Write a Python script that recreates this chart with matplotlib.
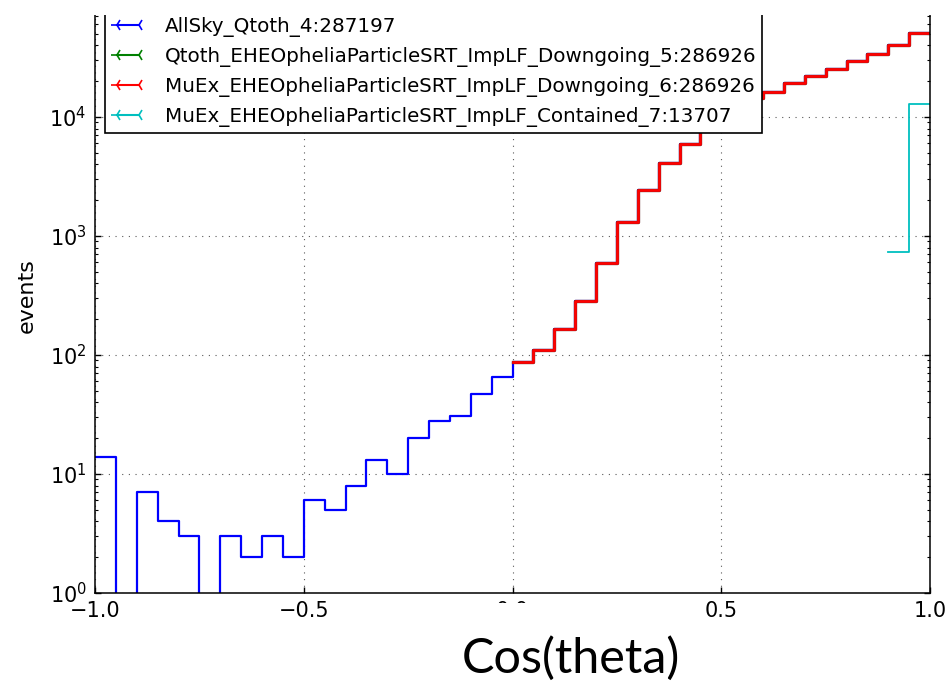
import numpy as np
import matplotlib
matplotlib.use("Agg")
import matplotlib.pyplot as plt
from matplotlib.lines import Line2D
from matplotlib.patches import Rectangle

# histogram data, 40 bins of cos(theta) from -1 to 1
bin_edges = np.linspace(-1.0, 1.0, 41)
upgoing_counts = [14, 0, 7, 4, 3, 0, 3, 2, 3, 2,
                  6, 5, 8, 13, 10, 20, 28, 31, 47, 65]
downgoing_counts = [87, 111, 164, 286, 588, 1322, 2433, 4113, 5955, 8600,
                    11700, 14400, 16200, 19300, 21900, 25100, 29300, 34000, 40400, 50900]
contained_counts = [730, 12977]

labels = ["AllSky_Qtoth_4:287197",
          "Qtoth_EHEOpheliaParticleSRT_ImpLF_Downgoing_5:286926",
          "MuEx_EHEOpheliaParticleSRT_ImpLF_Downgoing_6:286926",
          "MuEx_EHEOpheliaParticleSRT_ImpLF_Contained_7:13707"]
colors = ["#0000ff", "#008000", "#ff0000", "#00bfbf"]

allsky_counts = upgoing_counts + downgoing_counts
n_down = len(downgoing_counts)
n_cont = len(contained_counts)


def step(ax, edges, vals, **kw):
    vals = np.asarray(vals, dtype=float)
    ax.step(edges, np.append(vals, vals[-1]), where="post", **kw)


fig = plt.figure(figsize=(9.5, 6.83), dpi=100)
ax = fig.add_axes([95 / 950, 1 - 593 / 683, 835 / 950, 595 / 683])

step(ax, bin_edges, allsky_counts, color=colors[0], lw=1.6)
step(ax, bin_edges[-n_down - 1:], downgoing_counts, color="#6a3030", lw=2.4)
step(ax, bin_edges[-n_down - 1:], downgoing_counts, color=colors[2], lw=1.9)
step(ax, bin_edges[-n_cont - 1:], contained_counts, color=colors[3], lw=1.3)

ax.set_yscale("log")
ax.set_xlim(-1, 1)
ax.set_ylim(1, 1e5)
ax.set_xticks([-1.0, -0.5, 0.0, 0.5, 1.0])
ax.set_xticklabels(["\u22121.0", "\u22120.5", "0.0", "0.5", "1.0"])
ax.grid(True, which="major", color="0.35", linestyle=(0, (1, 5)), lw=0.8)
ax.tick_params(which="both", direction="in", left=True, right=True, top=True, bottom=True)
ax.tick_params(which="major", length=4, width=1, labelsize=15, pad=6)
ax.tick_params(which="minor", length=2, width=0.8)
for s in ax.spines.values():
    s.set_linewidth(1.1)
ax.set_ylabel("events", fontsize=16, labelpad=9)

handles = [Line2D([], [], color=c, lw=1.5, marker="3", markersize=9, mew=1.2) for c in colors]
leg = ax.legend(handles, labels, loc="lower left", numpoints=2,
                bbox_to_anchor=(105 / 950, 1 - 133 / 683), bbox_transform=fig.transFigure,
                fontsize=14.3, handlelength=1.7, handletextpad=1.0, labelspacing=0.5,
                borderpad=0.3, fancybox=False, framealpha=1, borderaxespad=0)
leg.get_frame().set_edgecolor("black")
leg.get_frame().set_linewidth(1.2)

# white strip at the top where the screenshot was cut
fig.add_artist(Rectangle((0, 1 - 15 / 683), 1, 15 / 683, transform=fig.transFigure,
                         facecolor="white", edgecolor="none", zorder=10))
# white text box of the slide caption, covering part of the tick label
fig.add_artist(Rectangle((440 / 950, 0), 260 / 950, 1 - 603 / 683, transform=fig.transFigure,
                         facecolor="white", edgecolor="none", zorder=10))
fig.text(571 / 950, 1 - 673 / 683, "Cos(theta)", family="Lato", fontsize=35,
         ha="center", va="baseline", zorder=11)

fig.savefig("out.png", dpi=100)
